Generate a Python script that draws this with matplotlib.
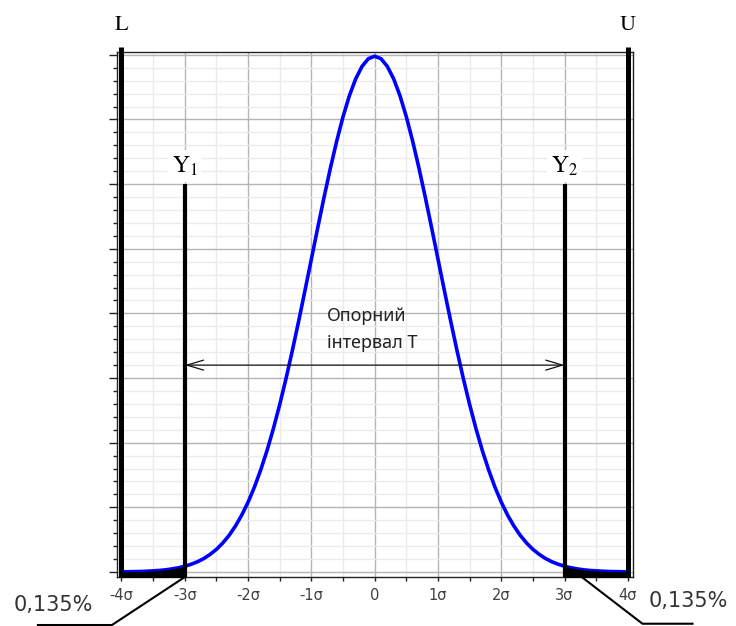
import matplotlib.pyplot as plt
from matplotlib.patches import FancyArrowPatch
from matplotlib.ticker import MultipleLocator

plt.rcParams['mathtext.fontset'] = 'stix'

# curve: density at every 0.1 sigma from -4 to 4
x_sigma = [round(-4 + 0.1 * i, 1) for i in range(81)]
density = [0.0001, 0.0002, 0.0003, 0.0004, 0.0006, 0.0009, 0.0012, 0.0017, 0.0024, 0.0033,
           0.0044, 0.0060, 0.0079, 0.0104, 0.0136, 0.0175, 0.0224, 0.0283, 0.0355, 0.0440,
           0.0540, 0.0656, 0.0790, 0.0940, 0.1109, 0.1295, 0.1497, 0.1714, 0.1942, 0.2179,
           0.2420, 0.2661, 0.2897, 0.3123, 0.3332, 0.3521, 0.3683, 0.3814, 0.3910, 0.3970,
           0.3989,
           0.3970, 0.3910, 0.3814, 0.3683, 0.3521, 0.3332, 0.3123, 0.2897, 0.2661, 0.2420,
           0.2179, 0.1942, 0.1714, 0.1497, 0.1295, 0.1109, 0.0940, 0.0790, 0.0656, 0.0540,
           0.0440, 0.0355, 0.0283, 0.0224, 0.0175, 0.0136, 0.0104, 0.0079, 0.0060, 0.0044,
           0.0033, 0.0024, 0.0017, 0.0012, 0.0009, 0.0006, 0.0004, 0.0003, 0.0002, 0.0001]

tick_pos = [-4, -3, -2, -1, 0, 1, 2, 3, 4]
tick_labels = ['-4σ', '-3σ', '-2σ', '-1σ', '0', '1σ', '2σ', '3σ', '4σ']

spec_limits = [-4, 4]
spec_names = ['L', 'U']
y_limits = [-3, 3]
y_names = [r'$\mathrm{Y}_1$', r'$\mathrm{Y}_2$']
y_line_top = 0.3
interval_y = 0.16
interval_text = 'Опорний\nінтервал Т'
tail_text = '0,135%'

fig = plt.figure(figsize=(7.36, 6.26), dpi=100)
ax = fig.add_axes([0.159, 0.078, 0.701, 0.839])
ax.set_xlim(-4.07, 4.08)
ax.set_ylim(-0.004, 0.4022)

ax.xaxis.set_major_locator(MultipleLocator(1))
ax.xaxis.set_minor_locator(MultipleLocator(0.5))
ax.yaxis.set_major_locator(MultipleLocator(0.05))
ax.yaxis.set_minor_locator(MultipleLocator(0.01))
ax.set_xticks(tick_pos)
ax.set_xticklabels(tick_labels)
ax.set_yticklabels([])
ax.grid(which='major', color='#b4b4b4', lw=1.0)
ax.grid(which='minor', color='#ebebeb', lw=1.0)
ax.set_axisbelow(True)
ax.tick_params(axis='x', which='both', length=3, width=1, colors='#222222',
               labelsize=10.5, labelcolor='#404040', pad=5)
ax.tick_params(axis='y', which='major', length=6, width=1, colors='#222222')
ax.tick_params(axis='y', which='minor', length=3, width=1, colors='#222222')
for s in ax.spines.values():
    s.set_color('#222222')
    s.set_linewidth(1.0)

ax.plot(x_sigma, density, color='#0000ff', lw=2.6, zorder=3)

# black tails outside Y1 / Y2
left_x = [v for v in x_sigma if v <= -3]
left_y = density[:len(left_x)]
ax.fill_between(left_x, -0.0035, [v - 0.0008 for v in left_y], color='black', zorder=4, lw=1.5)
right_x = [v for v in x_sigma if v >= 3]
right_y = density[-len(right_x):]
ax.fill_between(right_x, -0.0035, [v - 0.0008 for v in right_y], color='black', zorder=4, lw=1.5)

for xv, name in zip(spec_limits, spec_names):
    ax.plot([xv, xv], [-0.0035, 0.406], color='black', lw=3.6, clip_on=False,
            zorder=5, solid_capstyle='butt')
    ax.text(xv, 0.423, name, ha='center', va='center', fontsize=16,
            family='STIXGeneral')

for xv, name in zip(y_limits, y_names):
    ax.plot([xv, xv], [-0.0035, y_line_top], color='black', lw=3.0, zorder=5,
            solid_capstyle='butt')
    ax.text(xv, 0.314, name, ha='center', va='center', fontsize=17,
            bbox=dict(facecolor='white', edgecolor='none', pad=3), zorder=6)

arrow = FancyArrowPatch((y_limits[0], interval_y), (y_limits[1], interval_y),
                        arrowstyle='<->,head_length=1.0,head_width=0.3',
                        mutation_scale=12, lw=0.9, color='#111111',
                        shrinkA=0, shrinkB=0, zorder=4)
ax.add_patch(arrow)
ax.text(-0.76, 0.1875, interval_text, ha='left', va='center', fontsize=13,
        family='Noto Sans', color='#222222', linespacing=1.6)

# 0,135% leaders
ax.plot([-3.0, -4.15, -5.32], [-0.0039, -0.041, -0.041], color='black', lw=1.5,
        clip_on=False, zorder=5)
ax.plot([3.29, 4.23, 5.02], [-0.0046, -0.040, -0.040], color='black', lw=1.5,
        clip_on=False, zorder=5)
ax.text(-5.7, -0.0255, tail_text, ha='left', va='center', fontsize=15,
        color='#333333', clip_on=False)
ax.text(4.33, -0.0222, tail_text, ha='left', va='center', fontsize=15,
        color='#333333', clip_on=False)

fig.savefig('out.png', dpi=100)
